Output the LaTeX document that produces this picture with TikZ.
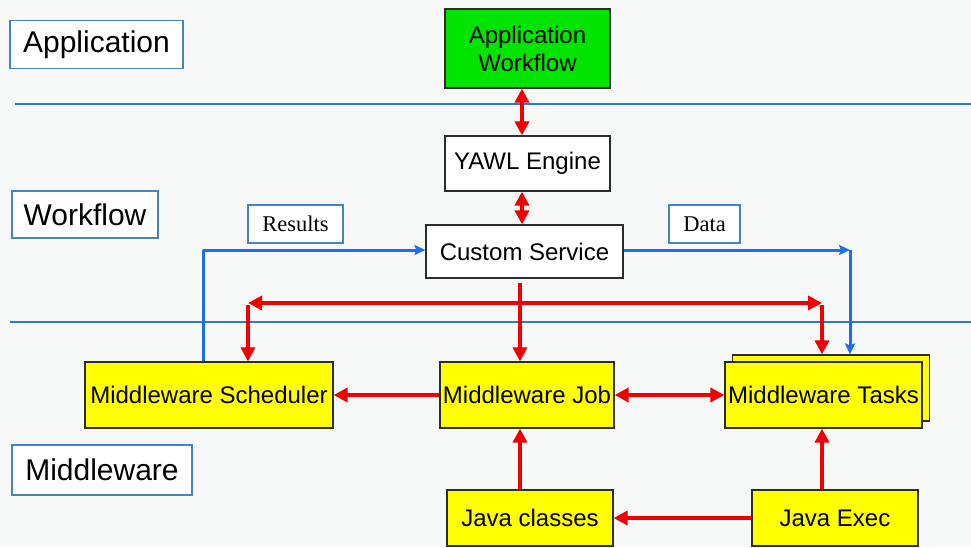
\documentclass[tikz,border=0pt]{standalone}
\usepackage{fontspec}
\setmainfont{Liberation Sans}
\newfontfamily\serifF{Liberation Serif}
\usetikzlibrary{arrows.meta,calc}
\definecolor{bg}{RGB}{246,249,247}
\definecolor{lblblue}{RGB}{70,130,200}
\definecolor{sepblue}{RGB}{50,120,210}
\definecolor{arrblue}{RGB}{30,110,235}
\definecolor{arrred}{RGB}{240,0,0}
\definecolor{ylw}{RGB}{255,255,0}
\definecolor{grn}{RGB}{0,228,0}
\definecolor{bord}{RGB}{45,45,45}
\tikzset{
  box/.style={draw=bord, line width=1.2pt, inner sep=0pt, align=center, font=\fontsize{24}{28}\selectfont},
  ybox/.style={box, fill=ylw},
  wbox/.style={box, fill=white},
  lbl/.style={draw=lblblue, line width=1.3pt, fill=white, inner sep=0pt, font=\fontsize{30}{34}\selectfont},
  slbl/.style={draw=lblblue, line width=1.3pt, fill=white, inner sep=0pt, font=\serifF\fontsize{22.5}{26}\selectfont},
  sep/.style={draw=sepblue, line width=1.1pt},
  redarr/.style={draw=arrred, line width=4.5pt, -{Triangle[length=14pt,width=14pt]}},
  redboth/.style={draw=arrred, line width=4.5pt, {Triangle[length=14pt,width=14pt]}-{Triangle[length=14pt,width=14pt]}},
  bluearr/.style={draw=arrblue, line width=3pt, -{Stealth[length=11pt,width=10pt,inset=2pt]}},
  blueline/.style={draw=arrblue, line width=3pt}
}
\begin{document}
\begin{tikzpicture}[x=1pt,y=-1pt]
\fill[bg] (0,0) rectangle (971,547);
\useasboundingbox (0,0) rectangle (971,547);
% separators
\coordinate (s1a) at (15,104); \coordinate (s1b) at (971,104);
\coordinate (s2a) at (10,322); \coordinate (s2b) at (971,322);
\draw[sep] (s1a) -- (s1b);
\draw[sep] (s2a) -- (s2b);
% labels
\node[lbl, minimum width=173pt, minimum height=48pt] (appLbl) at (96.5,44.5) {Application};
\node[lbl, minimum width=146pt, minimum height=47pt] (wfLbl) at (85,214.5) {Workflow};
\node[lbl, minimum width=180pt, minimum height=50pt] (mwLbl) at (102,470) {Middleware};
\node[slbl, minimum width=95pt, minimum height=38pt] (results) at (295.5,224) {Results};
\node[slbl, minimum width=71pt, minimum height=38pt] (data) at (704.5,224) {Data};
% main boxes
\node[box, fill=grn, minimum width=165pt, minimum height=79pt] (appWf) at (527.5,48.5) {Application\\Workflow};
\node[wbox, minimum width=165pt, minimum height=55pt] (yawl) at (527.5,163.5) {YAWL Engine};
\node[wbox, minimum width=197pt, minimum height=53pt] (cs) at (524.5,251.5) {Custom Service};
\node[ybox, minimum width=248pt, minimum height=66pt] (sched) at (209,395) {Middleware Scheduler};
\node[ybox, minimum width=174pt, minimum height=66pt] (job) at (527,395) {Middleware Job};
\node[ybox, minimum width=197pt, minimum height=66pt] (tasksBack) at (831,388) {};
\node[ybox, minimum width=197pt, minimum height=66pt] (tasks) at (823.5,395) {Middleware Tasks};
\node[ybox, minimum width=166pt, minimum height=56pt] (jc) at (530,518) {Java classes};
\node[ybox, minimum width=166pt, minimum height=56pt] (je) at (835,518) {Java Exec};
% coordinates
\coordinate (rx) at (522,0);
\coordinate (csb) at (520,283);
\coordinate (hl) at (248,303);
\coordinate (hr) at (822,303);
\coordinate (bl) at (203,250);
\coordinate (br) at (850,250);
% red arrows
\draw[redboth] (appWf.south -| rx) -- (yawl.north -| rx);
\draw[redboth] (yawl.south -| rx) -- (cs.north -| rx);
\draw[redarr] (csb) -- (csb |- job.north);
\draw[redboth] (hl) -- (hr);
\draw[redarr] ([yshift=-2pt]hl) -- (hl |- sched.north);
\draw[redarr] ([yshift=-2pt]hr) -- (hr |- tasksBack.north);
\draw[redarr] (job.west) -- (sched.east);
\draw[redboth] (job.east) -- (tasks.west);
\draw[redarr] (jc.north -| csb) -- (job.south -| csb);
\draw[redarr] (je.north -| hr) -- (tasks.south -| hr);
\draw[redarr] (je.west) -- (jc.east);
% blue arrows
\draw[blueline] (bl |- sched.north) -- (bl);
\draw[bluearr] (bl) -- (cs.west |- bl);
\draw[bluearr] (cs.east |- br) -- (br);
\draw[bluearr] (br) -- (br |- tasksBack.north);
\end{tikzpicture}
\end{document}
